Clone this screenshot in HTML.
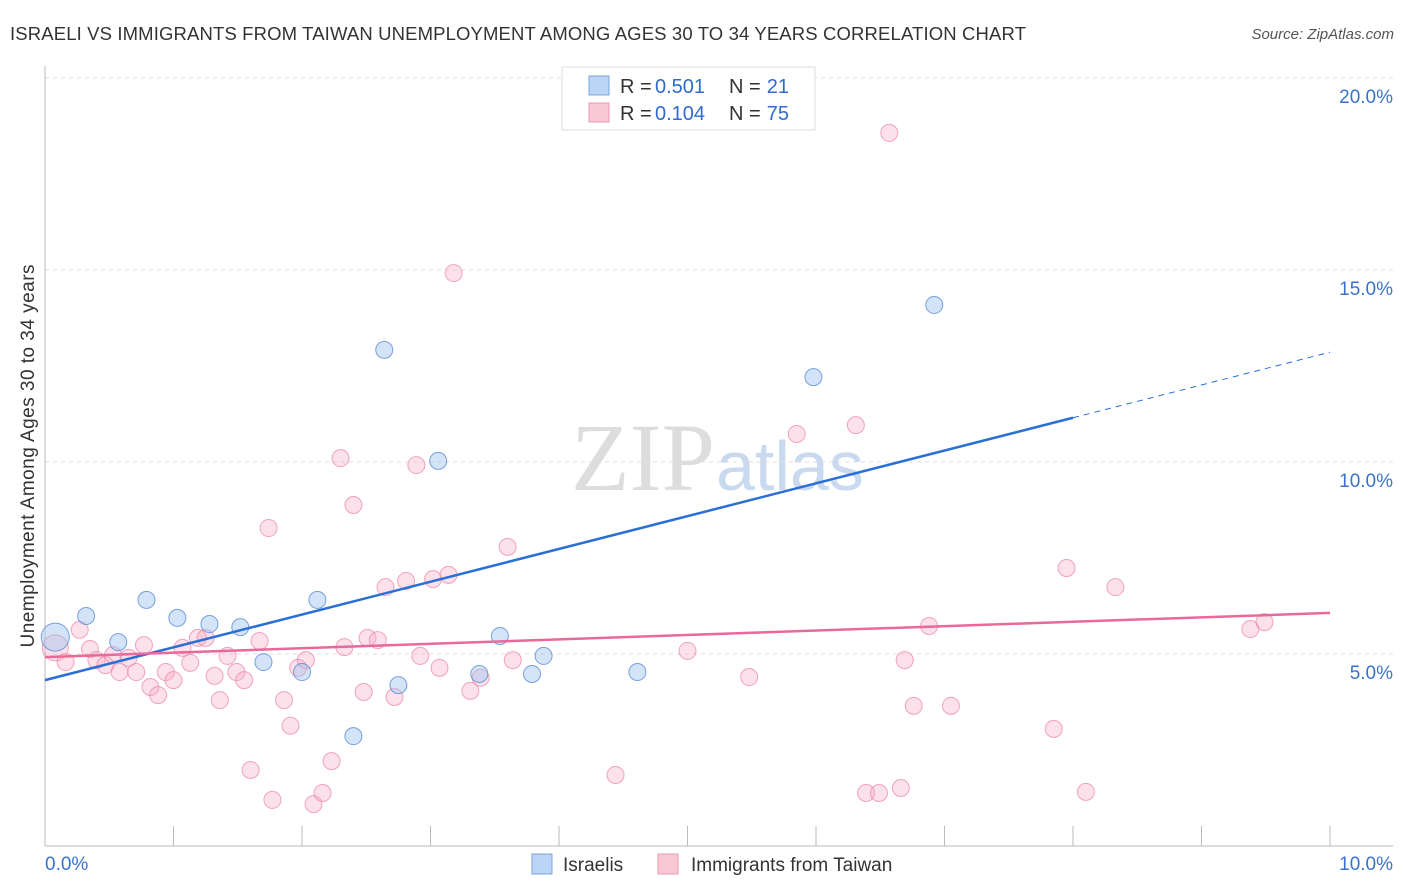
<!DOCTYPE html>
<html><head><meta charset="utf-8"><style>
body{margin:0;background:#fff;font-family:"Liberation Sans",sans-serif;}
#wrap{position:relative;width:1406px;height:892px;overflow:hidden;}
</style></head><body>
<div id="wrap">
<svg id="svg" width="1406" height="892" xmlns="http://www.w3.org/2000/svg" style="position:absolute;left:0;top:0">
<text x="10" y="40" font-size="18.5" fill="#333" textLength="1016">ISRAELI VS IMMIGRANTS FROM TAIWAN UNEMPLOYMENT AMONG AGES 30 TO 34 YEARS CORRELATION CHART</text>
<text x="1394" y="39" font-size="15" fill="#555" font-style="italic" text-anchor="end">Source: ZipAtlas.com</text>
<text x="715" y="490" font-size="96" fill="#ddd" text-anchor="end" font-family="Liberation Serif,serif">ZIP</text>
<text x="716" y="490" font-size="70" fill="#c9d9ef">atlas</text>
<text transform="translate(34,456) rotate(-90)" font-size="19" fill="#333" text-anchor="middle" textLength="383">Unemployment Among Ages 30 to 34 years</text>
<g id="grid"></g><g id="axes"></g><g id="marks"></g>
<g>
<rect x="562" y="67" width="253" height="63" fill="#fff" stroke="#ddd"/>
<rect x="589" y="76" width="20" height="19" fill="#bcd4f5" stroke="#7aa4dc"/>
<rect x="589" y="103" width="20" height="19" fill="#f9c8d6" stroke="#ea9ab2"/>
<text x="620" y="93" font-size="20" fill="#333">R =</text><text x="655" y="93" font-size="20" fill="#2f6bd0">0.501</text>
<text x="729" y="93" font-size="20" fill="#333">N =</text><text x="789" y="93" font-size="20" fill="#2f6bd0" text-anchor="end">21</text>
<text x="620" y="120" font-size="20" fill="#333">R =</text><text x="655" y="120" font-size="20" fill="#2f6bd0">0.104</text>
<text x="729" y="120" font-size="20" fill="#333">N =</text><text x="789" y="120" font-size="20" fill="#2f6bd0" text-anchor="end">75</text>
</g>
<g>
<rect x="532" y="854" width="20" height="20" fill="#bcd4f5" stroke="#7aa4dc"/>
<text x="563" y="871" font-size="19" fill="#333">Israelis</text>
<rect x="658" y="854" width="20" height="20" fill="#f9c8d6" stroke="#ea9ab2"/>
<text x="691" y="871" font-size="19" fill="#333">Immigrants from Taiwan</text>
</g>
</svg>
</div>
<script>
const yTicks=[5,10,15,20];
const xTickLabels=["0.0%","10.0%"];
const blueX=[0.08,0.32,0.57,0.79,1.03,1.28,1.52,1.70,2.00,2.12,2.64,2.75,3.06,3.38,3.54,3.79,3.88,4.61,5.98,6.92,2.40];
const blueY=[5.44,5.99,5.31,6.41,5.94,5.78,5.70,4.79,4.53,6.41,12.92,4.19,10.03,4.48,5.47,4.48,4.95,4.53,12.21,14.09,2.86];
const pinkX=[0.08,0.16,0.27,0.35,0.40,0.47,0.53,0.58,0.65,0.71,0.77,0.82,0.88,0.94,1.00,1.07,1.13,1.19,1.25,1.32,1.36,1.42,1.49,1.55,1.60,1.67,1.74,1.77,1.86,1.91,1.97,2.03,2.09,2.16,2.23,2.30,2.33,2.40,2.48,2.51,2.59,2.65,2.72,2.81,2.89,2.92,3.02,3.07,3.14,3.18,3.31,3.39,3.60,3.64,4.44,5.00,5.48,5.85,6.31,6.39,6.49,6.57,6.66,6.69,6.76,6.88,7.05,7.85,7.95,8.10,8.33,9.38,9.49];
const pinkY=[5.16,4.79,5.63,5.13,4.84,4.71,4.97,4.53,4.90,4.53,5.23,4.14,3.93,4.53,4.32,5.16,4.77,5.42,5.42,4.43,3.80,4.95,4.53,4.32,1.98,5.34,8.28,1.20,3.80,3.13,4.64,4.84,1.09,1.38,2.21,10.10,5.18,8.88,4.01,5.42,5.36,6.74,3.88,6.90,9.92,4.95,6.95,4.64,7.06,14.92,4.04,4.38,7.79,4.84,1.85,5.08,4.40,10.73,10.96,1.38,1.38,18.57,1.51,4.84,3.65,5.73,3.65,3.05,7.24,1.41,6.74,5.65,5.83];
const blueTrend=[4.32,12.86];
const pinkTrend=[4.92,6.07];
const NS="http://www.w3.org/2000/svg";
const X=v=>45+v*128.5, Y=v=>846-v*38.4;
function mk(p,t,a){const e=document.createElementNS(NS,t);for(const k in a)e.setAttribute(k,a[k]);p.appendChild(e);return e;}
const grid=document.getElementById('grid'),axes=document.getElementById('axes'),marks=document.getElementById('marks');
yTicks.forEach(t=>{
 const l=mk(grid,'line',{x1:45,x2:1393,y1:Y(t),y2:Y(t),stroke:'#ddd','stroke-dasharray':'4,4'});
 
 
 const tx=mk(grid,'text',{x:1393,y:Y(t)+25,'font-size':19,fill:'#3b72cc','text-anchor':'end'});
 tx.textContent=t.toFixed(1)+'%';
 
 
});
const ax=mk(axes,'line',{x1:45,x2:1393,y1:846,y2:846,stroke:'#bbb'});


const ay=mk(axes,'line',{x1:45,x2:45,y1:66,y2:846,stroke:'#bbb'});


for(let i=0;i<=10;i++){
 const t=mk(axes,'line',{x1:X(i),x2:X(i),y1:826,y2:846,stroke:'#bbb'});
 
 
}
[[0,'start',45],[10,'end',1393]].forEach((d,i)=>{
 const t=mk(axes,'text',{x:d[2],y:870,'font-size':19,fill:'#3b72cc','text-anchor':d[1]});
 t.textContent=xTickLabels[i];
 
 
});
pinkX.forEach((x,i)=>{
 const c=mk(marks,'circle',{cx:X(x),cy:Y(pinkY[i]),r:i==0?13:8.5,fill:'rgba(246,170,195,0.35)',stroke:'rgba(234,130,165,0.7)','stroke-width':1});
 
 
});
blueX.forEach((x,i)=>{
 const c=mk(marks,'circle',{cx:X(x),cy:Y(blueY[i]),r:i==0?14:8.5,fill:'rgba(160,195,240,0.45)',stroke:'rgba(90,140,210,0.8)','stroke-width':1});
 
 
});
const bx=8.0, by=blueTrend[0]+(blueTrend[1]-blueTrend[0])*bx/10;
const b1=mk(marks,'line',{x1:X(0),y1:Y(blueTrend[0]),x2:X(bx),y2:Y(by),stroke:'#2a6fd6','stroke-width':2.5});


const b2=mk(marks,'line',{x1:X(bx),y1:Y(by),x2:X(10),y2:Y(blueTrend[1]),stroke:'#2a6fd6','stroke-width':1,'stroke-dasharray':'6,5'});


const p1=mk(marks,'line',{x1:X(0),y1:Y(pinkTrend[0]),x2:X(10),y2:Y(pinkTrend[1]),stroke:'#e8699a','stroke-width':2.5});


</script>
</body></html>
